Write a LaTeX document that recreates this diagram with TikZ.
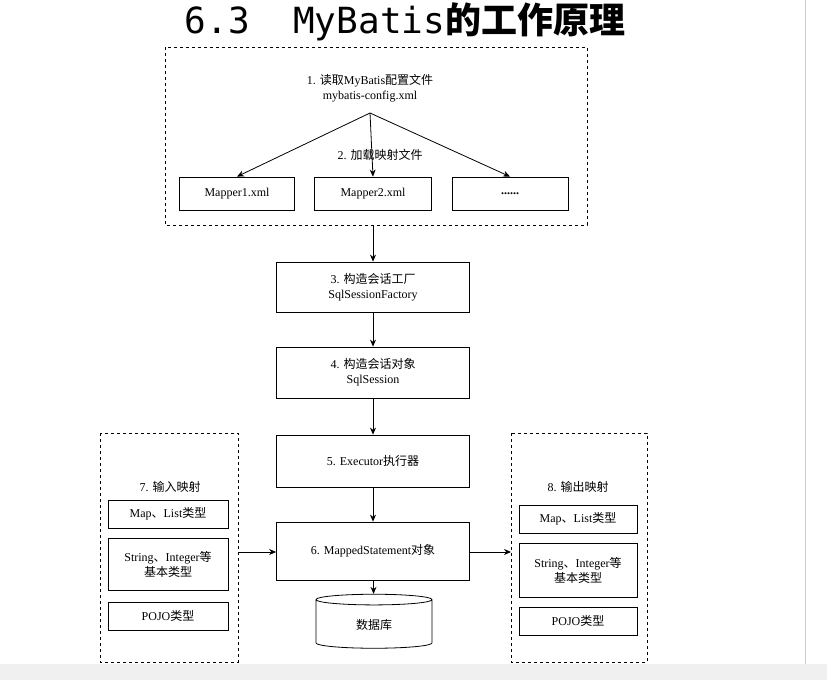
\documentclass[tikz,border=0pt]{standalone}
\usepackage{fontspec}
\setmainfont{Liberation Serif}
\newfontfamily\cjk{Noto Sans CJK SC}
\newfontfamily\mono{DejaVu Sans Mono}
\usetikzlibrary{shapes.geometric,arrows.meta}
\begin{document}
\begin{tikzpicture}[x=1pt,y=-1pt,
  bx/.style={draw,thick,minimum width=#1,align=center,font=\fontsize{12}{15}\selectfont,inner sep=2pt},
  dbox/.style={draw,thick,dashed},
  arr/.style={-{Stealth[length=7pt,width=6pt]},thick},
  lbl/.style={font=\fontsize{12}{15}\selectfont,align=center}]
\useasboundingbox (0,0) rectangle (827,680);
\fill[gray!12] (0,664) rectangle (827,680);
\draw[gray!40] (805,0) -- (805,664);
\node[font=\fontsize{36}{40}\selectfont] (title) at (405,22) {{\mono 6.3\ \ MyBatis}{\cjk\bfseries 的工作原理}};
% top dashed box
\draw[dbox] (165,47) rectangle (587,225);
\node[lbl] (t1) at (370,88) {1. {\cjk 读取}MyBatis{\cjk 配置文件}\\mybatis-config.xml};
\coordinate (src) at (370,113);
\node[bx=115pt,minimum height=33pt] (m1) at (237,193.5) {Mapper1.xml};
\node[bx=117pt,minimum height=33pt] (m2) at (373,193.5) {Mapper2.xml};
\node[bx=116pt,minimum height=33pt] (m3) at (510,193.5) {\textbf{......}};
\node[lbl] (t2) at (380,155) {2. {\cjk 加载映射文件}};
\draw[arr] (src) -- (m1.north);
\draw[arr] (src) -- (m2.north);
\draw[arr] (src) -- (m3.north);
\coordinate (topb) at (373,225);
% main chain
\node[bx=193pt,minimum height=50pt] (b3) at (373,287) {3. {\cjk 构造会话工厂}\\SqlSessionFactory};
\node[bx=193pt,minimum height=51pt] (b4) at (373,372.5) {4. {\cjk 构造会话对象}\\SqlSession};
\node[bx=193pt,minimum height=52pt] (b5) at (373,461) {5. Executor{\cjk 执行器}};
\node[bx=193pt,minimum height=58pt] (b6) at (373,551) {6. MappedStatement{\cjk 对象}};
\node[draw,thick,cylinder,shape border rotate=90,aspect=0.25,minimum width=116pt,minimum height=54pt,font=\cjk\fontsize{12}{15}\selectfont] (db) at (374,625) {数据库};
\draw[arr] (topb) -- (b3);
\draw[arr] (b3) -- (b4);
\draw[arr] (b4) -- (b5);
\draw[arr] (b5) -- (b6);
\draw[arr] (b6) -- (db);
% left box
\draw[dbox] (100,433) rectangle (238,662);
\node[lbl] (t7) at (170,487) {7. {\cjk 输入映射}};
\node[bx=120pt,minimum height=28pt] (l1) at (168,514) {Map{\cjk 、}List{\cjk 类型}};
\node[bx=120pt,minimum height=52pt] (l2) at (168,564) {String{\cjk 、}Integer{\cjk 等}\\{\cjk 基本类型}};
\node[bx=120pt,minimum height=28pt] (l3) at (168,616) {POJO{\cjk 类型}};
% right box
\draw[dbox] (511,433) rectangle (647,662);
\node[lbl] (t8) at (578,487) {8. {\cjk 输出映射}};
\node[bx=118pt,minimum height=28pt] (r1) at (578,519) {Map{\cjk 、}List{\cjk 类型}};
\node[bx=118pt,minimum height=54pt] (r2) at (578,570) {String{\cjk 、}Integer{\cjk 等}\\{\cjk 基本类型}};
\node[bx=118pt,minimum height=28pt] (r3) at (578,621) {POJO{\cjk 类型}};
\coordinate (lo) at (238,552);
\coordinate (ri) at (511,552);
\draw[arr] (lo) -- (b6.west|-lo);
\draw[arr] (b6.east|-ri) -- (ri);
\end{tikzpicture}
\end{document}
